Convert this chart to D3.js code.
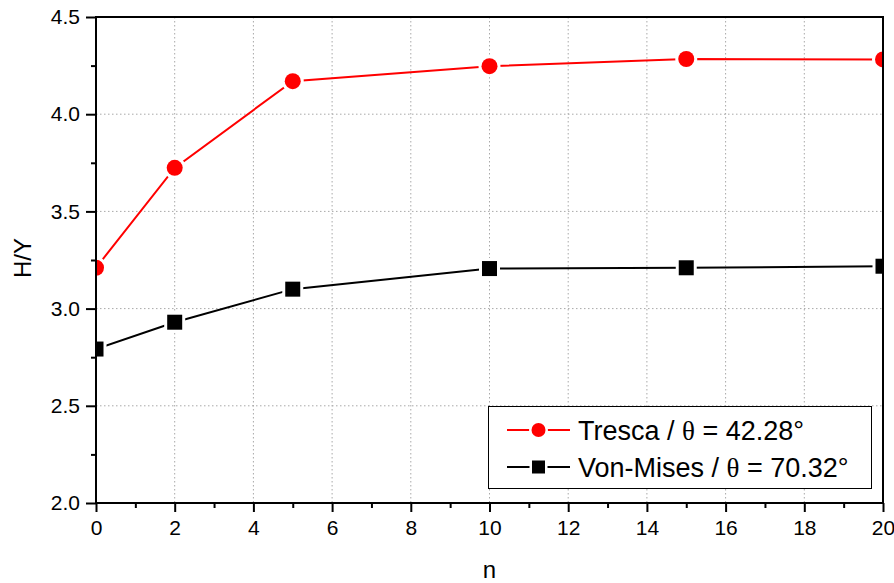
<!DOCTYPE html>
<html>
<head>
<meta charset="utf-8">
<script src="https://cdn.jsdelivr.net/npm/d3@7/dist/d3.min.js"></script>
<style>
  html, body { margin: 0; padding: 0; background: #fff; }
  svg { display: block; }
  text { font-family: "Liberation Sans", Arial, sans-serif; fill: #000; }
</style>
</head>
<body>
<svg id="chart" width="894" height="583"></svg>
<script>
// ---- data ----
const nValues = [0, 2, 5, 10, 15, 20];
const trescaValues = [3.21, 3.724, 4.17, 4.247, 4.284, 4.282];
const vonMisesValues = [2.792, 2.93, 3.10, 3.206, 3.21, 3.218];
const seriesNames = ["Tresca / θ = 42.28°", "Von-Mises / θ = 70.32°"];
const xTicks = [0, 2, 4, 6, 8, 10, 12, 14, 16, 18, 20];
const yTicks = [2.0, 2.5, 3.0, 3.5, 4.0, 4.5];
const xMinorTicks = [1, 3, 5, 7, 9, 11, 13, 15, 17, 19];
const yMinorTicks = [2.25, 2.75, 3.25, 3.75, 4.25];
const xTitle = "n";
const yTitle = "H/Y";

(function () {
// ---- layout ----
const mL = 96, mR = 883, mT = 17, mB = 503;
const svg = d3.select("#chart");
const x = d3.scaleLinear().domain([0, 20]).range([mL, mR]);
const y = d3.scaleLinear().domain([2.0, 4.5]).range([mB, mT]);

svg.append("defs").append("clipPath").attr("id", "plotclip")
  .append("rect").attr("x", mL).attr("y", mT)
  .attr("width", mR - mL).attr("height", mB - mT);

// grid
const grid = svg.append("g");
grid.selectAll(".gx").data(xTicks.filter(d => d > 0 && d < 20)).enter().append("line")
  .attr("x1", d => x(d)).attr("x2", d => x(d)).attr("y1", mT).attr("y2", mB)
  .attr("stroke", "#a8a8a8").attr("stroke-width", 1).attr("stroke-dasharray", "1.5,2.5");
grid.selectAll(".gy").data(yTicks.filter(d => d > 2.0 && d < 4.5)).enter().append("line")
  .attr("y1", d => y(d)).attr("y2", d => y(d)).attr("x1", mL).attr("x2", mR)
  .attr("stroke", "#a8a8a8").attr("stroke-width", 1).attr("stroke-dasharray", "1.5,2.5");

// series
const plot = svg.append("g").attr("clip-path", "url(#plotclip)");
const line = d3.line().x(d => x(d[0])).y(d => y(d[1]));
const tresca = nValues.map((n, i) => [n, trescaValues[i]]);
const vm = nValues.map((n, i) => [n, vonMisesValues[i]]);

plot.append("path").datum(tresca).attr("d", line)
  .attr("fill", "none").attr("stroke", "#ff0000").attr("stroke-width", 2);
plot.append("path").datum(vm).attr("d", line)
  .attr("fill", "none").attr("stroke", "#000").attr("stroke-width", 2);

plot.selectAll(".c").data(tresca).enter().append("circle")
  .attr("cx", d => x(d[0])).attr("cy", d => y(d[1])).attr("r", 8)
  .attr("fill", "#ff0000").attr("stroke", "#fff").attr("stroke-width", 6)
  .style("paint-order", "stroke");
plot.selectAll(".s").data(vm).enter().append("rect")
  .attr("x", d => x(d[0]) - 7.5).attr("y", d => y(d[1]) - 7.5)
  .attr("width", 15).attr("height", 15)
  .attr("fill", "#000").attr("stroke", "#fff").attr("stroke-width", 6)
  .style("paint-order", "stroke");

// axes
const xAxis = svg.append("g").attr("transform", `translate(0,${mB})`)
  .call(d3.axisBottom(x).tickValues(xTicks).tickSize(9).tickPadding(8).tickFormat(d3.format("d")));
const xMinor = svg.append("g").attr("transform", `translate(0,${mB})`)
  .call(d3.axisBottom(x).tickValues(xMinorTicks).tickSize(5).tickFormat(""));
const yAxis = svg.append("g").attr("transform", `translate(${mL},0)`)
  .call(d3.axisLeft(y).tickValues(yTicks).tickSize(10).tickPadding(6).tickFormat(d3.format(".1f")));
const yMinor = svg.append("g").attr("transform", `translate(${mL},0)`)
  .call(d3.axisLeft(y).tickValues(yMinorTicks).tickSize(5).tickFormat(""));

[xAxis, xMinor, yAxis, yMinor].forEach(g => {
  g.select(".domain").remove();
  g.selectAll(".tick line").attr("stroke", "#000").attr("stroke-width", 2);
  g.selectAll("text").style("font-size", "21px").style("font-family", "'Liberation Sans', Arial, sans-serif").attr("fill", "#000");
});

// frame
svg.append("rect").attr("x", mL).attr("y", mT)
  .attr("width", mR - mL).attr("height", mB - mT)
  .attr("fill", "none").attr("stroke", "#000").attr("stroke-width", 2);

// axis titles
svg.append("text").attr("x", (mL + mR) / 2).attr("y", 578)
  .attr("text-anchor", "middle").style("font-size", "24px").text(xTitle);
svg.append("text").attr("transform", `translate(31,258) rotate(-90)`)
  .attr("text-anchor", "middle").style("font-size", "24px").text(yTitle);

// legend
const lg = svg.append("g");
lg.append("rect").attr("x", 488.5).attr("y", 406.5).attr("width", 383).attr("height", 82)
  .attr("fill", "#fff").attr("stroke", "#000").attr("stroke-width", 1);
const rows = [
  {name: seriesNames[0], color: "#ff0000", shape: "circle", cy: 430},
  {name: seriesNames[1], color: "#000", shape: "square", cy: 467}
];
rows.forEach(r => {
  lg.append("line").attr("x1", 507).attr("x2", 570).attr("y1", r.cy).attr("y2", r.cy)
    .attr("stroke", r.color).attr("stroke-width", 2);
  if (r.shape === "circle") {
    lg.append("circle").attr("cx", 538.5).attr("cy", r.cy).attr("r", 7)
      .attr("fill", r.color).attr("stroke", "#fff").attr("stroke-width", 5).style("paint-order", "stroke");
  } else {
    lg.append("rect").attr("x", 532).attr("y", r.cy - 6.5).attr("width", 13).attr("height", 13)
      .attr("fill", r.color).attr("stroke", "#fff").attr("stroke-width", 5).style("paint-order", "stroke");
  }
  const t = lg.append("text").attr("x", 578).attr("y", r.cy + 9.5).style("font-size", "27px");
  const parts = r.name.split("θ");
  t.append("tspan").text(parts[0]);
  t.append("tspan").style("font-family", "'Liberation Serif', 'Times New Roman', serif").text("θ");
  t.append("tspan").text(parts[1]);
});
})();
</script>
</body>
</html>
